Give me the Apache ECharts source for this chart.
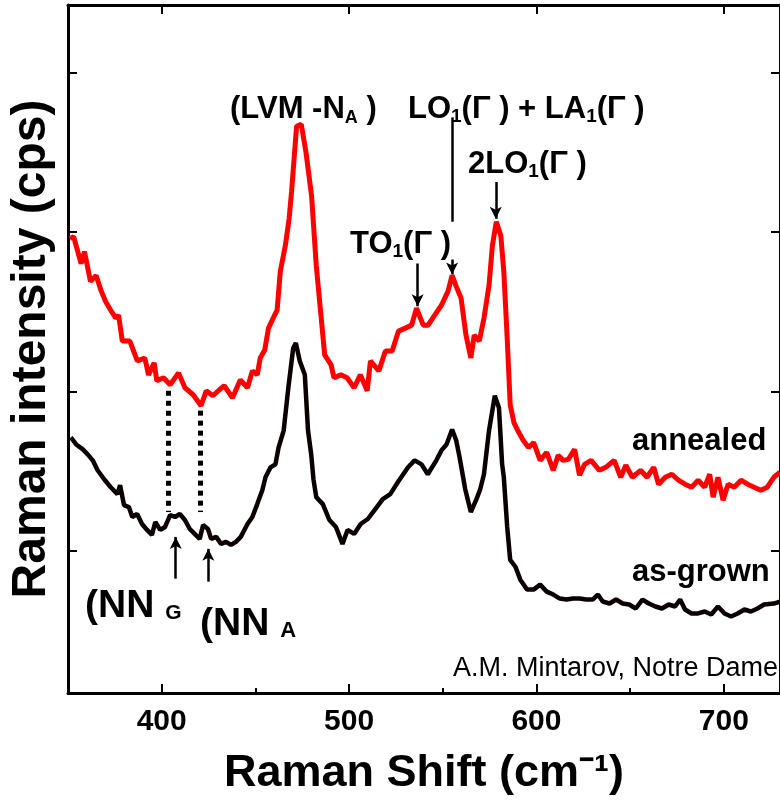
<!DOCTYPE html>
<html>
<head>
    <meta charset="utf-8">
    <title>Raman spectra</title>
    <script src="https://cdn.jsdelivr.net/npm/echarts@6/dist/echarts.min.js"></script>
    <style>
        body, html { margin: 0; padding: 0; height: 100%; overflow: hidden; background: #fff; }
        #main { width: 780px; height: 801px; }
    </style>
</head>
<body>
    <div id="main"></div>
    <script>
        // spectra: [Raman shift cm-1, intensity (arb.)]
        const annealed = [
            [351,457],[353,459],[357,432],[358.8,444],[362,414],[365,420],[367.6,405],[370,394],
            [372.8,385],[375.5,377],[377,380],[379,354],[383,354],[387,334],[391,337],[393,320],
            [396,332],[397.4,314],[401,317],[404.5,310],[409,322],[412.4,307],[416.8,300],[421,289],
            [423.8,304],[427.3,299],[430.8,305],[433.4,309],[437.8,297],[442,315],[445.8,307],
            [448.4,324],[451,320],[452.6,337],[455,345],[457,367],[459.5,377],[461.6,385],
            [463.3,424],[466,450],[468,477],[469.3,504],[472,570],[474.5,572],[477,544],[480,500],
            [482.5,430],[485,380],[487,340],[490.4,330],[492,317],[495.6,320],[499,317],[502.7,307],
            [506,320],[509.7,304],[511.4,334],[515.9,324],[519.4,344],[523,344],[526.4,364],
            [530,367],[533.4,370],[536,387],[539.6,370],[542.2,370],[545.7,380],[549.3,390],
            [552.8,404],[555,420],[557.2,409],[559.8,397],[562.4,360],[565,337],[566.8,360],
            [569.5,354],[572,377],[574.7,410],[576.5,450],[578.6,474],[581,460],[582.6,424],
            [584.4,357],[586,290],[588,272],[590,264],[593,254],[595.8,247],[598.5,252],[602,234],
            [605.5,242],[609,224],[611.6,239],[614.3,234],[617,235],[620.4,245],[623,219],
            [625.7,230],[629.2,234],[633.6,224],[637,227],[641.5,234],[645,217],[647.7,229],
            [651.2,217],[655.6,224],[659,217],[662.6,227],[665.2,210],[668.8,217],[672.3,220],
            [675.8,214],[679.3,210],[682.8,207],[686.3,214],[689.8,207],[692.5,220],[694.3,197],
            [696.9,217],[699.6,194],[702.3,210],[705.6,207],[709.2,214],[712.7,210],[716.2,207],
            [719.7,204],[723.2,207],[726.7,217],[730,222]
        ];
        const asGrown = [
            [351.5,257],[354.4,250],[357.9,245],[360.5,240],[363.2,234],[365.8,224],[369.3,215],
            [372.8,207],[376.4,200],[377.8,209],[379.9,189],[382.5,187],[384.3,177],[386.9,180],
            [389.5,170],[392.2,164],[394.8,159],[396.6,172],[399.2,164],[401.8,167],[404.5,179],
            [407.1,177],[409.7,180],[412.4,174],[415,165],[417.6,160],[420.3,155],[422.1,169],
            [424.7,165],[426.4,155],[429.1,157],[431.7,150],[434.3,152],[437,149],[439.6,152],
            [442.2,157],[445.8,170],[448.4,177],[451,190],[453.7,204],[455.4,217],[458.1,227],
            [460.7,230],[462.4,247],[465.1,264],[467.6,307],[470.2,347],[471.6,352],[473.7,334],
            [476.4,320],[478.1,264],[479.8,240],[481,215],[482.5,197],[486,190],[489.5,174],
            [493,167],[496.5,150],[499.2,164],[502.7,160],[506.2,170],[510,175],[514,185],
            [518,195],[522,200],[526,212],[531.5,227],[535,234],[538.7,230],[542,220],[546.6,234],
            [549.3,244],[552,250],[555,265],[557.2,254],[559,237],[562,205],[565,182],[568,195],
            [570,205],[572,220],[574.7,264],[577.8,299],[580,287],[581.7,230],[582.6,217],
            [584.4,167],[586,134],[588.8,127],[591.4,114],[595,104],[598.5,104],[602,109],
            [605.5,102],[609,99],[612.5,95],[616,94],[619.5,95],[623,95],[626.6,94],[630,94],
            [632.8,99],[635.4,92],[639,90],[642.5,94],[646,90],[649.5,89],[653,85],[656.6,94],
            [660,90],[663.5,87],[667,85],[670.6,89],[674,87],[676.7,94],[679.3,84],[682.8,80],
            [686.3,80],[689.8,82],[693.3,79],[696.9,87],[700.4,80],[703.9,77],[707.4,80],[711,84],
            [714.5,82],[718,85],[721.5,89],[726.7,90],[730,92]
        ];
        const xMajor = [400, 500, 600, 700];
        const xMinor = [450, 550, 650];
        const yTicks = [143, 303, 464, 624];

        // peak markers: [shift, from, to, arrow?]
        const arrows = [
            [536.6, 432, 389, true],   // TO1
            [555, 579, 474, false],    // LO1 + LA1 leader
            [555, 436, 421, true],     // LO1 + LA1 head
            [578.3, 514, 477, true],   // 2LO1
            [407.5, 115, 157, true],   // NN G
            [424.9, 112, 145, true]    // NN A
        ];
        const dotted = [[403.7, 304, 182], [420.5, 284, 182]];

        const FONT = '"Liberation Sans", Arial, Helvetica, sans-serif';
        const ctx = document.createElement('canvas').getContext('2d');
        function tw(t, size, weight) {
            ctx.font = (weight || 'bold') + ' ' + size + 'px ' + FONT;
            return ctx.measureText(t).width;
        }

        // text pieces: [text, size, baseline offset]; y given as baseline
        function label(x, base, pieces, weight, align) {
            const out = [];
            if (align === 'right') {
                x -= pieces.reduce((s, p) => s + tw(p[0], p[1], weight), 0);
            }
            pieces.forEach(p => {
                out.push({
                    type: 'text', silent: true, z: 10,
                    style: {
                        text: p[0], x: x, y: base + (p[2] || 0) - 0.84 * p[1],
                        font: (weight || 'bold') + ' ' + p[1] + 'px ' + FONT,
                        fill: '#000', textAlign: 'left', textVerticalAlign: 'top'
                    }
                });
                x += tw(p[0], p[1], weight);
            });
            return out;
        }

        let graphics = [];
        graphics = graphics.concat(label(230, 120, [['(LVM -N', 31], ['A', 18, 4], [' )', 31]]));
        graphics = graphics.concat(label(408, 120, [['LO', 31], ['1', 19, 3], ['(Γ ) + LA', 31], ['1', 19, 3], ['(Γ )', 31]]));
        graphics = graphics.concat(label(468, 175, [['2LO', 31], ['1', 19, 3], ['(Γ )', 31]]));
        graphics = graphics.concat(label(350, 255, [['TO', 31], ['1', 19, 3], ['(Γ )', 31]]));
        graphics = graphics.concat(label(632, 452, [['annealed', 31]]));
        graphics = graphics.concat(label(632, 583, [['as-grown', 31]]));
        graphics = graphics.concat(label(85, 620, [['(NN ', 39], ['G', 21, 0]]));
        graphics = graphics.concat(label(200, 638, [['(NN ', 39], ['A', 22, 0]]));
        graphics = graphics.concat(label(778, 678, [['A.M. Mintarov, Notre Dame', 27]], 'normal', 'right'));

        const markData = arrows.map(a => [
            { coord: [a[0], a[1]], symbol: 'none', lineStyle: { color: '#000', width: 2.5, type: 'solid' } },
            { coord: [a[0], a[2]], symbol: a[3] ? 'arrow' : 'none', symbolSize: [9, 12] }
        ]).concat(dotted.map(d => [
            { coord: [d[0], d[1]], symbol: 'none', lineStyle: { color: '#000', width: 5, type: [5, 5], cap: 'butt' } },
            { coord: [d[0], d[2]], symbol: 'none' }
        ]));

        const chart = echarts.init(document.getElementById('main'));
        const axisLineStyle = { color: '#000', width: 3 };

        chart.setOption({
            animation: false,
            backgroundColor: '#fff',
            grid: { left: 62, right: -3, top: 5, bottom: 104 },
            xAxis: [{
                type: 'value', min: 350, max: 730, position: 'bottom',
                name: 'Raman Shift (cm⁻¹)', nameLocation: 'middle', nameGap: 58,
                nameTextStyle: { fontFamily: FONT, fontWeight: 'bold', fontSize: 45, color: '#000' },
                axisLine: { lineStyle: axisLineStyle },
                axisTick: { inside: true, length: 9, customValues: xMajor, lineStyle: { color: '#000', width: 2 } },
                axisLabel: { customValues: xMajor, margin: 14, fontFamily: FONT, fontWeight: 'bold', fontSize: 30, color: '#000' },
                splitLine: { show: false }
            }, {
                type: 'value', min: 350, max: 730, position: 'bottom',
                axisLine: { show: false },
                axisTick: { inside: true, length: 5, customValues: xMinor, lineStyle: { color: '#000', width: 2 } },
                axisLabel: { show: false },
                splitLine: { show: false }
            }, {
                type: 'value', min: 350, max: 730, position: 'top',
                axisLine: { lineStyle: axisLineStyle },
                axisTick: { inside: true, length: 9, customValues: xMajor, lineStyle: { color: '#000', width: 2 } },
                axisLabel: { show: false },
                splitLine: { show: false }
            }],
            yAxis: [{
                type: 'value', min: 0, max: 692, position: 'left',
                name: 'Raman intensity (cps)', nameLocation: 'middle', nameGap: 12,
                nameTextStyle: { fontFamily: FONT, fontWeight: 'bold', fontSize: 48, color: '#000' },
                axisLine: { show: true, lineStyle: axisLineStyle },
                axisTick: { show: true, inside: true, length: 9, customValues: yTicks, lineStyle: { color: '#000', width: 2 } },
                axisLabel: { show: false },
                splitLine: { show: false }
            }, {
                type: 'value', min: 0, max: 692, position: 'right',
                axisLine: { show: true, lineStyle: axisLineStyle },
                axisTick: { show: true, inside: true, length: 9, customValues: yTicks, lineStyle: { color: '#000', width: 2 } },
                axisLabel: { show: false },
                splitLine: { show: false }
            }],
            series: [{
                name: 'annealed', type: 'line', data: annealed,
                showSymbol: false, symbol: 'none', clip: true,
                lineStyle: { color: '#ff0000', width: 5 },
                markLine: { silent: true, animation: false, label: { show: false }, data: markData }
            }, {
                name: 'as-grown', type: 'line', data: asGrown,
                showSymbol: false, symbol: 'none', clip: true,
                lineStyle: { color: '#0a0000', width: 4.5 }
            }],
            graphic: graphics
        });
    </script>
</body>
</html>
